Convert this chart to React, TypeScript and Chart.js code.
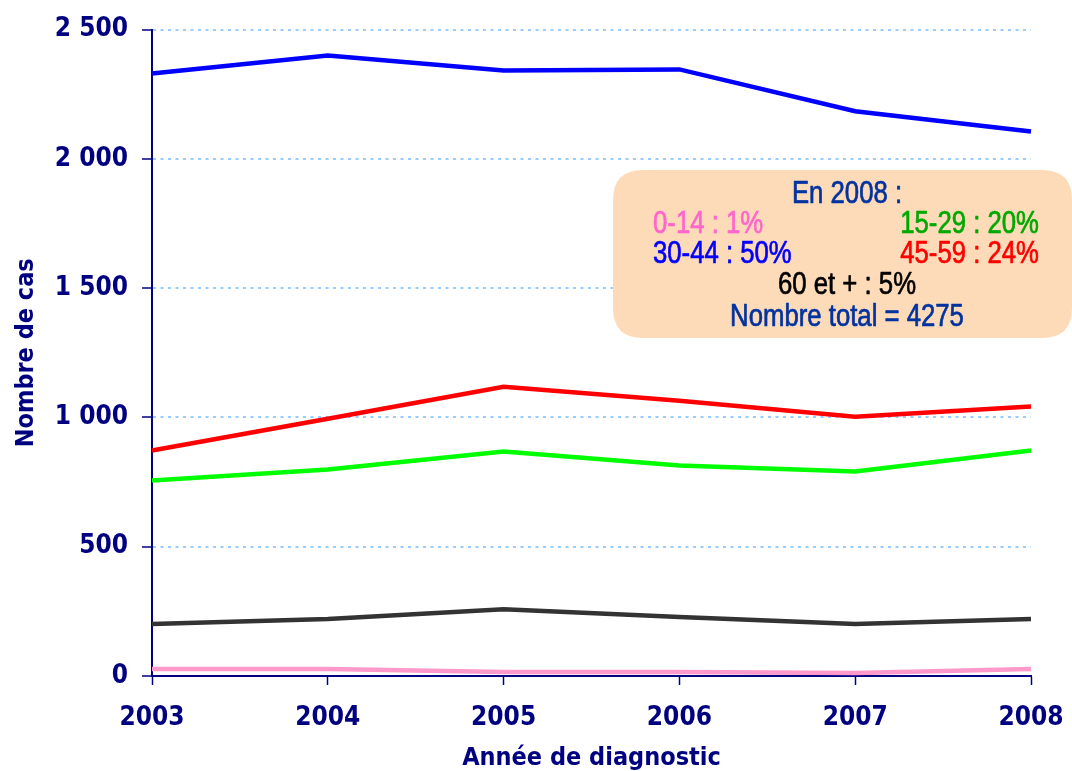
import React, { useEffect, useRef } from "react";
import { Chart, registerables } from "chart.js";

Chart.register(...registerables);

const years = ["2003", "2004", "2005", "2006", "2007", "2008"];
const age0_14 = [27, 27, 15, 15, 12, 27];
const age15_29 = [756, 799, 868, 814, 791, 872];
const age30_44 = [2330, 2400, 2342, 2346, 2184, 2106];
const age45_59 = [872, 995, 1119, 1065, 1003, 1042];
const age60plus = [201, 220, 258, 228, 201, 220];
const yTicks = [0, 500, 1000, 1500, 2000, 2500];

const NAVY = "#000080";
const TICK_FONT = "'DejaVu Sans Condensed', 'DejaVu Sans', sans-serif";

const fmt = (v: number) => String(v).replace(/\B(?=(\d{3})+(?!\d))/g, " ");

const annotationPlugin = {
  id: "noteBox",
  afterDraw(chart: any) {
    const ctx = chart.ctx as CanvasRenderingContext2D;
    const x0 = 613, y0 = 170, x1 = 1072, y1 = 338, r = 30;
    ctx.save();
    ctx.fillStyle = "#FDDBB9";
    ctx.beginPath();
    ctx.moveTo(x0 + r, y0);
    ctx.lineTo(x1 - r, y0);
    ctx.quadraticCurveTo(x1, y0, x1, y0 + r);
    ctx.lineTo(x1, y1 - r);
    ctx.quadraticCurveTo(x1, y1, x1 - r, y1);
    ctx.lineTo(x0 + r, y1);
    ctx.quadraticCurveTo(x0, y1, x0, y1 - r);
    ctx.lineTo(x0, y0 + r);
    ctx.quadraticCurveTo(x0, y0, x0 + r, y0);
    ctx.closePath();
    ctx.fill();

    const sx = 0.83;
    ctx.font = "31px 'Liberation Sans', Arial, sans-serif";
    ctx.textBaseline = "alphabetic";
    ctx.lineJoin = "round";
    const draw = (text: string, x: number, y: number, align: CanvasTextAlign, color: string) => {
      ctx.save();
      ctx.translate(x, y);
      ctx.scale(sx, 1);
      ctx.textAlign = align;
      ctx.fillStyle = color;
      ctx.strokeStyle = color;
      ctx.lineWidth = 0.7;
      ctx.fillText(text, 0, 0);
      ctx.strokeText(text, 0, 0);
      ctx.restore();
    };
    const cx = 847;
    draw("En 2008 :", cx, 203, "center", "#0033A0");
    draw("0-14 : 1%", 653, 233, "left", "#FF66CC");
    draw("15-29 : 20%", 1039, 233, "right", "#00A800");
    draw("30-44 : 50%", 653, 263, "left", "#0000FF");
    draw("45-59 : 24%", 1039, 263, "right", "#FF0000");
    draw("60 et + : 5%", cx, 294, "center", "#000000");
    draw("Nombre total = 4275", cx, 326, "center", "#0033A0");
    ctx.restore();
  },
};

export default function App() {
  const ref = useRef<HTMLCanvasElement | null>(null);
  useEffect(() => {
    if (!ref.current) return;
    const mk = (label: string, data: number[], color: string) => ({
      label,
      data,
      borderColor: color,
      backgroundColor: color,
      borderWidth: 4.5,
      pointRadius: 0,
      tension: 0,
      fill: false,
    });
    const chart = new Chart(ref.current, {
      type: "line",
      data: {
        labels: years,
        datasets: [
          mk("0-14", age0_14, "#FF99CC"),
          mk("15-29", age15_29, "#00FF00"),
          mk("30-44", age30_44, "#0000FF"),
          mk("45-59", age45_59, "#FF0000"),
          mk("60 et +", age60plus, "#333333"),
        ],
      },
      options: {
        animation: false,
        responsive: false,
        layout: { padding: { left: 0, right: 0, top: 28, bottom: 0 } },
        plugins: { legend: { display: false }, tooltip: { enabled: false } },
        scales: {
          x: {
            type: "category",
            offset: false,
            grid: {
              drawOnChartArea: false,
              drawTicks: true,
              tickLength: 9,
              tickColor: NAVY,
              tickWidth: 1.5,
            },
            border: { color: NAVY, width: 2 },
            ticks: {
              color: NAVY,
              font: { family: TICK_FONT, size: 26, weight: "bold" },
              padding: 18,
              maxRotation: 0,
              autoSkip: false,
            },
            title: {
              display: true,
              text: "Année de diagnostic",
              color: NAVY,
              font: { family: TICK_FONT, size: 25, weight: "bold" },
              padding: { top: 0, bottom: -2 },
            },
            afterFit: (s: any) => {
              s.height = 95;
              s.paddingRight = 41;
              s.paddingLeft = 0;
            },
          },
          y: {
            min: 0,
            max: 2500,
            afterBuildTicks: (s: any) => {
              s.ticks = yTicks.map((v) => ({ value: v }));
            },
            grid: {
              color: (c: any) => (c.tick && c.tick.value === 0 ? "rgba(0,0,0,0)" : "#99CCFF"),
              lineWidth: 2,
              tickLength: 10,
              tickColor: NAVY,
              tickBorderDash: [],
              tickWidth: 1.5,
            },
            border: { color: NAVY, width: 2, dash: [3, 4.5] },
            ticks: {
              color: NAVY,
              font: { family: TICK_FONT, size: 26, weight: "bold" },
              padding: 14,
              callback: (v: any) => fmt(Number(v)),
            },
            title: {
              display: true,
              text: "Nombre de cas",
              color: NAVY,
              font: { family: TICK_FONT, size: 25, weight: "bold" },
              padding: { top: 11, bottom: 0 },
            },
            afterFit: (s: any) => {
              s.width = 152;
            },
          },
        },
      },
      plugins: [annotationPlugin],
    });
    return () => chart.destroy();
  }, []);
  return (
    <div style={{ position: "fixed", left: 0, top: 0, width: 1072, height: 771, background: "#fff" }}>
      <canvas ref={ref} width={1072} height={771} style={{ width: 1072, height: 771, display: "block" }} />
    </div>
  );
}
